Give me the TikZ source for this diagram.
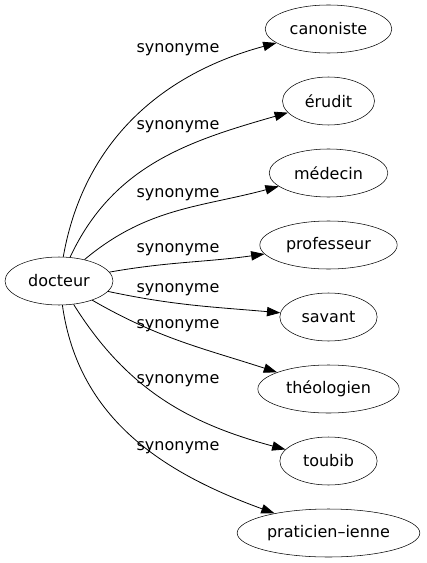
\documentclass[tikz,border=0pt]{standalone}
\usepackage{fontspec}
\setmainfont{DejaVu Sans}
\usetikzlibrary{shapes.geometric,arrows.meta}

\tikzset{
  word/.style={draw, ellipse, inner sep=0pt, minimum height=36pt, font=\fontsize{12}{14}\selectfont},
  syn/.style={-{Triangle[length=10pt,width=7pt]}, line width=0.6pt},
  lab/.style={font=\fontsize{12}{14}\selectfont}
}

\begin{document}
\begin{tikzpicture} [x=0.75pt,y=0.75pt]
\useasboundingbox (0,0) rectangle (426,-563);
\node [word, minimum width=81pt] (docteur) at (59,-281) {docteur};
\node [word, minimum width=95pt] (canoniste) at (328.5,-29) {canoniste};
\node [word, minimum width=69pt] (erudit) at (328.5,-101) {érudit};
\node [word, minimum width=89pt] (medecin) at (328.5,-173) {médecin};
\node [word, minimum width=103pt] (professeur) at (328.5,-245) {professeur};
\node [word, minimum width=73pt] (savant) at (328.5,-317) {savant};
\node [word, minimum width=106pt] (theologien) at (328.5,-389) {théologien};
\node [word, minimum width=73pt] (toubib) at (328.5,-461) {toubib};
\node [word, minimum width=137pt] (praticien) at (328.5,-533) {praticien–ienne};
\node [lab] (l1) at (178,-50) {synonyme};
\node [lab] (l2) at (178,-127) {synonyme};
\node [lab] (l3) at (178,-195) {synonyme};
\node [lab] (l4) at (178,-250) {synonyme};
\node [lab] (l5) at (178,-290) {synonyme};
\node [lab] (l6) at (178,-326) {synonyme};
\node [lab] (l7) at (178,-381) {synonyme};
\node [lab] (l8) at (178,-448) {synonyme};
\draw [syn] (docteur) to[out=80,in=195] (canoniste);
\draw [syn] (docteur) to[out=65,in=196] (erudit);
\draw [syn] (docteur) to[out=40,in=195] (medecin);
\draw [syn] (docteur) to[out=10,in=188] (professeur);
\draw [syn] (docteur) to[out=-12,in=175] (savant);
\draw [syn] (docteur) to[out=-30,in=162] (theologien);
\draw [syn] (docteur) to[out=-58,in=165] (toubib);
\draw [syn] (docteur) to[out=-82,in=160] (praticien);
\end{tikzpicture}
\end{document}
